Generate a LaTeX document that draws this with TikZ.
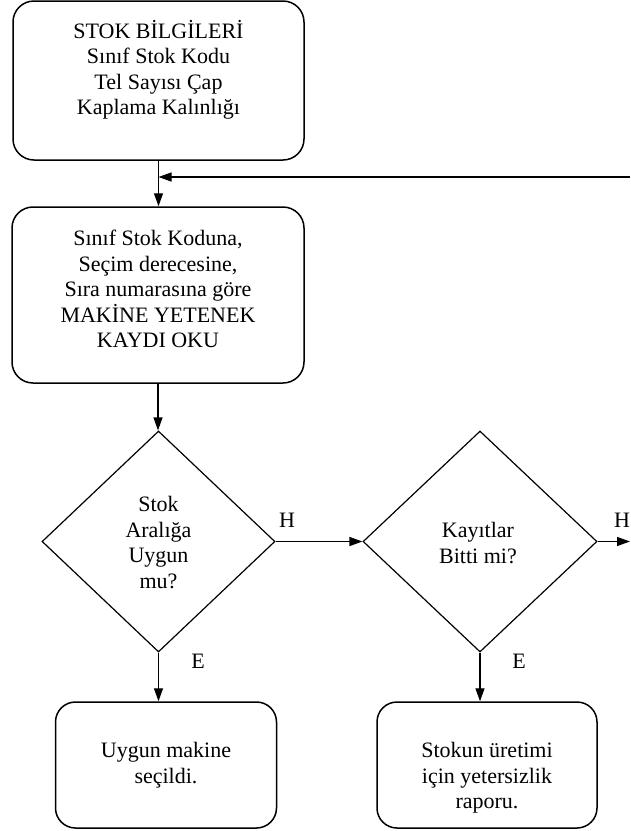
\documentclass[tikz,border=0pt]{standalone}
\usepackage{fontspec}
\setmainfont{Liberation Serif}
\usetikzlibrary{shapes.geometric,arrows.meta}
\begin{document}
\begin{tikzpicture}[x=1pt,y=1pt,
  box/.style={draw, rounded corners=21pt, line width=1.5pt, inner sep=0pt},
  dia/.style={draw, diamond, line width=1.2pt, inner sep=0pt},
  txt/.style={align=center, inner sep=0pt, font=\fontsize{22}{25.5}\selectfont},
  lbl/.style={inner sep=0pt, font=\fontsize{22}{25.5}\selectfont},
  arr/.style={-{Triangle[length=13pt,width=9pt]}, line width=1.3pt},
  plain/.style={line width=1.3pt}]
\useasboundingbox (0,0) rectangle (630,-831);
% shapes
\node[box, minimum width=291pt, minimum height=159pt] (b1) at (158.5,-80.5) {};
\node[box, minimum width=292pt, minimum height=176pt] (b2) at (158,-295) {};
\node[dia, minimum width=233pt, minimum height=221pt] (d1) at (158.5,-541.5) {};
\node[dia, minimum width=234pt, minimum height=221pt] (d2) at (480,-541.5) {};
\node[box, rounded corners=20pt, minimum width=221pt, minimum height=126pt] (b3) at (166,-765) {};
\node[box, rounded corners=20pt, minimum width=220pt, minimum height=126pt] (b4) at (487,-765) {};
% texts
\node[txt] (t1) at (158.5,-70) {STOK BİLGİLERİ\\Sınıf Stok Kodu\\Tel Sayısı Çap\\Kaplama Kalınlığı};
\node[txt] (t2) at (158,-289) {Sınıf Stok Koduna,\\Seçim derecesine,\\Sıra numarasına göre\\MAKİNE YETENEK\\KAYDI OKU};
\node[txt] (t3) at (158.5,-542.5) {Stok\\Aralığa\\Uygun\\mu?};
\node[txt] (t4) at (478,-542.8) {Kayıtlar\\Bitti mi?};
\node[txt] (t5) at (166,-765) {Uygun makine\\seçildi.};
\node[txt] (t6) at (487,-778) {Stokun üretimi\\için yetersizlik\\raporu.};
% labels
\node[lbl] (h1) at (287,-520) {H};
\node[lbl] (h2) at (622,-520) {H};
\node[lbl] (e1) at (198,-661) {E};
\node[lbl] (e2) at (519,-661) {E};
% connector ends
\coordinate (fbin) at (630,-177);
\coordinate (exitH) at (630,-541.5);
% connectors
\draw[arr] (b1.south) -- (b1.south |- b2.north);
\draw[arr] (fbin) -- (b1.south |- fbin);
\draw[arr] (b2.south) -- (b2.south |- d1.north);
\draw[arr] (d1.east) -- (d2.west);
\draw[arr] (d2.east) -- (exitH);
\draw[arr] (d1.south) -- (d1.south |- b3.north);
\draw[arr] (d2.south) -- (d2.south |- b4.north);
\end{tikzpicture}
\end{document}
